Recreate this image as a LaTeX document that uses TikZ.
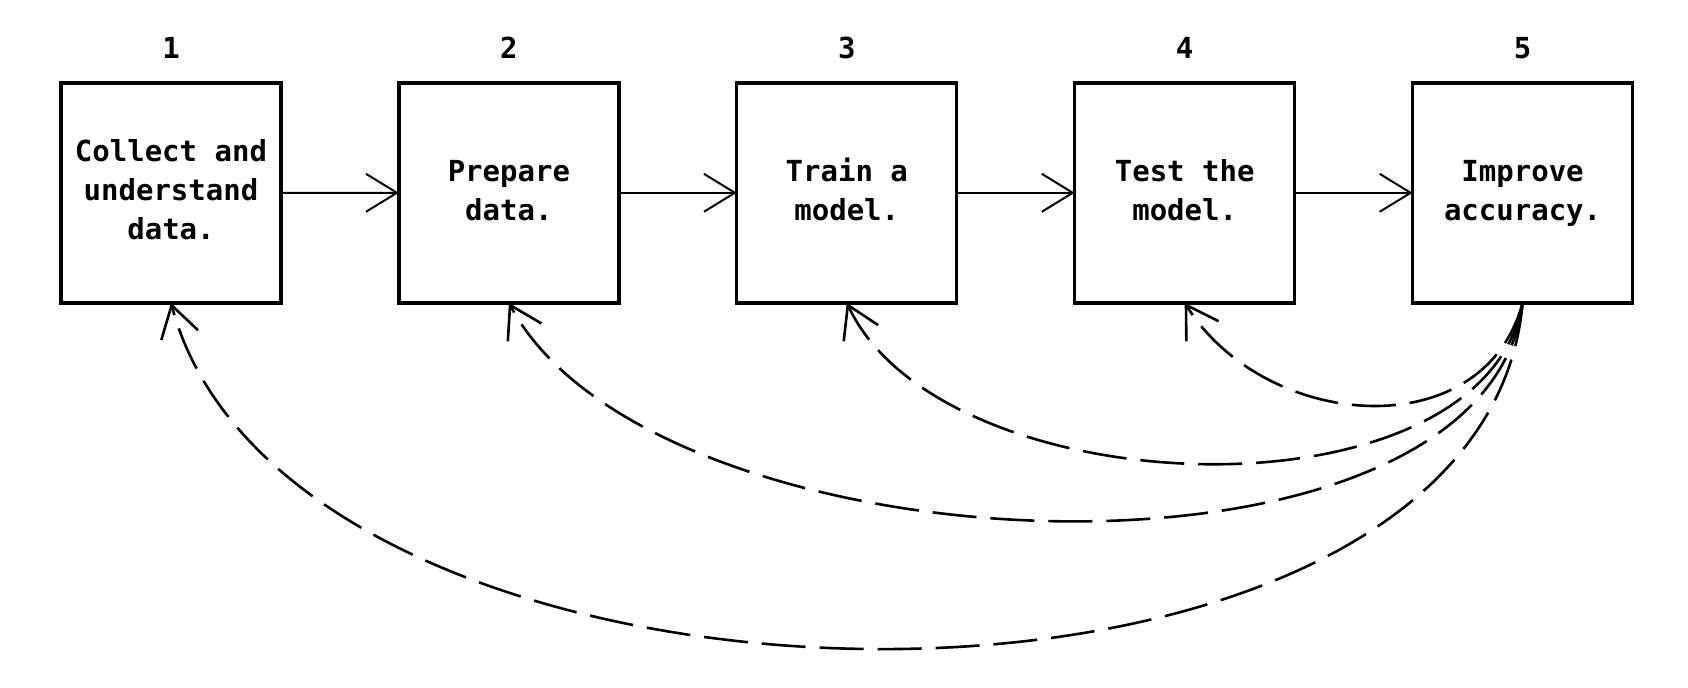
\documentclass[tikz,border=0pt]{standalone}
\usepackage{fontspec}
\newfontfamily\stagefont{DejaVu Sans Mono Bold}
\usetikzlibrary{matrix,arrows.meta}
\newcommand\stagetext[1]{\begin{tabular}{@{}c@{}}#1\end{tabular}}

\begin{document}
\begin{tikzpicture}[
  stagebox/.style={draw, line width=1.7pt, minimum width=110pt, minimum height=110pt, outer sep=0pt},
  stagenum/.style={inner sep=0pt},
  back/.style={dash pattern=on 22pt off 7pt, line width=1.3pt},
  >={Straight Barb[length=15.5pt,width=19pt]}
]
  \matrix (m) [matrix of nodes, row sep=11pt, column sep=57.25pt,
    nodes={font=\stagefont\fontsize{14.5pt}{19.5pt}\selectfont},
    row 1/.style={nodes=stagenum}, row 2/.style={nodes=stagebox}]
  {
  1 & 2 & 3 & 4 & 5 \\
  \stagetext{Collect and\\understand\\data.} & \stagetext{Prepare\\data.} & \stagetext{Train a\\model.} & \stagetext{Test the\\model.} & \stagetext{Improve\\accuracy.} \\ };
  \path[->, line width=1pt]
  (m-2-1) edge (m-2-2)
  (m-2-2) edge (m-2-3)
  (m-2-3) edge (m-2-4)
  (m-2-4) edge (m-2-5);
  % feedback from the last stage
  \path[->, back, overlay]
  (m-2-5.south) edge [out=-95, in=-75, out distance=235pt, in distance=235pt] (m-2-1.south)
  edge [out=-97, in=-62, out distance=155pt, in distance=155pt] (m-2-2.south)
  edge [out=-100, in=-65, out distance=113.5pt, in distance=113.5pt] (m-2-3.south)
  edge [out=-105, in=-58, out distance=75.5pt, in distance=75.5pt] (m-2-4.south);
  \path (m-2-1.center) ++(-85.5pt,96.4pt) rectangle ++(844pt,-343.5pt);
\end{tikzpicture}
\end{document}
